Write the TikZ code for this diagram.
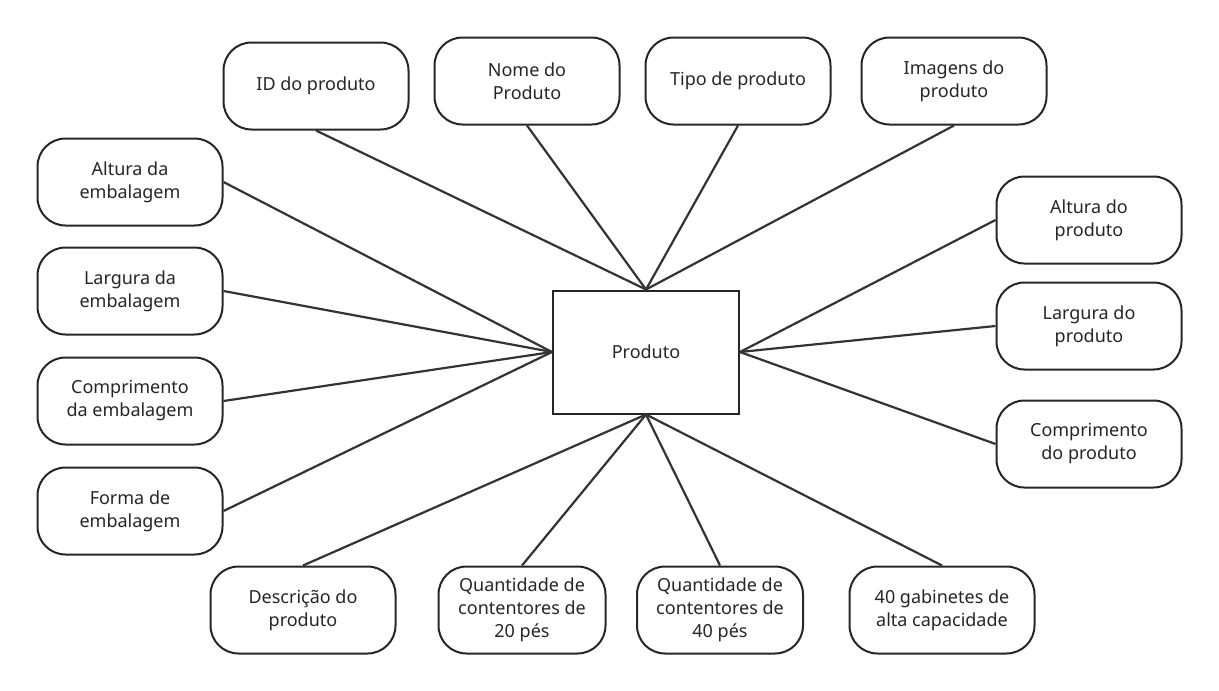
\documentclass[tikz,border=0pt]{standalone}
\usepackage{fontspec}
\setmainfont{Noto Sans}
\begin{document}
\begin{tikzpicture}[x=1pt,y=-1pt,
  attr/.style={draw=black!85,line width=2pt,rounded corners=28pt,minimum width=185pt,minimum height=87pt,align=center,font=\fontsize{18}{23}\selectfont,text=black!85},
  ent/.style={draw=black!85,line width=2pt,minimum width=186pt,minimum height=123pt,font=\fontsize{18}{23}\selectfont,text=black!85},
  conn/.style={draw=black!80,line width=2.2pt}]
\useasboundingbox (0,0) rectangle (1219,691);
\fill[white] (0,0) rectangle (1219,691);
\node[ent] (p) at (646,352) {Produto};
\node[attr] (id) at (316,86) {ID do produto};
\node[attr] (nome) at (527,81) {Nome do\\Produto};
\node[attr] (tipo) at (738,81) {Tipo de produto};
\node[attr] (img) at (954,81) {Imagens do\\produto};
\node[attr] (ae) at (130,182) {Altura da\\embalagem};
\node[attr] (le) at (130,291) {Largura da\\embalagem};
\node[attr] (ce) at (130,401) {Comprimento\\da embalagem};
\node[attr] (fe) at (130,511) {Forma de\\embalagem};
\node[attr] (ap) at (1089,220) {Altura do\\produto};
\node[attr] (lp) at (1089,326) {Largura do\\produto};
\node[attr] (cp) at (1089,444) {Comprimento\\do produto};
\node[attr] (desc) at (303,610) {Descrição do\\produto};
\node[attr,minimum width=167pt] (q20) at (522,610) {Quantidade de\\contentores de\\20 pés};
\node[attr,minimum width=166pt] (q40) at (720,610) {Quantidade de\\contentores de\\40 pés};
\node[attr] (gab) at (942,610) {40 gabinetes de\\alta capacidade};
\foreach \n in {id,nome,tipo,img} \draw[conn] (\n.south) -- (p.north);
\foreach \n in {ae,le,ce,fe} \draw[conn] (\n.east) -- (p.west);
\foreach \n in {ap,lp,cp} \draw[conn] (\n.west) -- (p.east);
\foreach \n in {desc,q20,q40,gab} \draw[conn] (\n.north) -- (p.south);
\end{tikzpicture}
\end{document}
